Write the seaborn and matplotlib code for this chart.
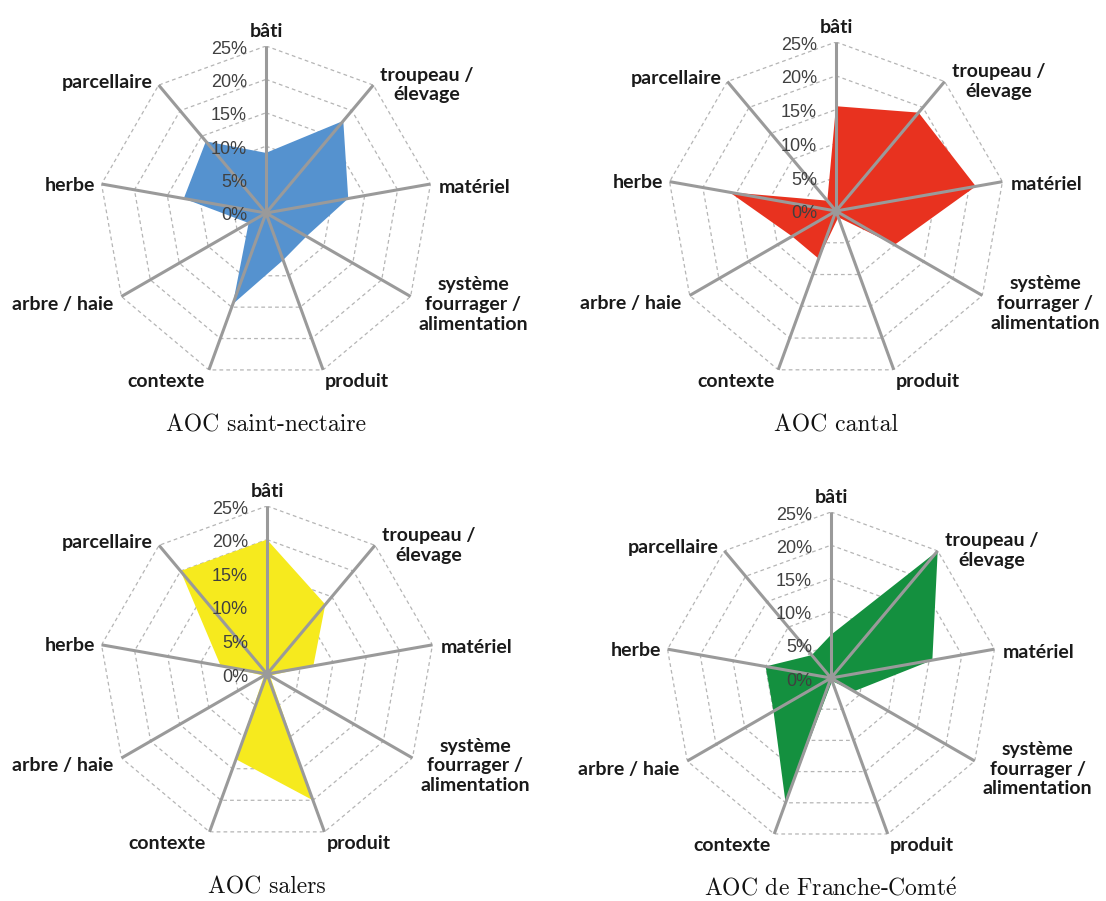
import numpy as np
import pandas as pd
import seaborn as sns
from matplotlib import pyplot as plt

# axis categories, clockwise from the top
categories = ['bâti', 'troupeau /\nélevage', 'matériel', 'système\nfourrager /\nalimentation',
              'produit', 'contexte', 'arbre / haie', 'herbe', 'parcellaire']
tick_values = [0, 5, 10, 15, 20, 25]
tick_labels = ['0%', '5%', '10%', '15%', '20%', '25%']

# share of each category (%)
saint_nectaire = [9, 18, 12.5, 7, 7.5, 14.5, 3, 12.5, 14]
cantal = [15.5, 19, 21, 10, 1, 7.5, 7.5, 16, 2]
salers = [20, 13.5, 7, 0.5, 20, 13.5, 0.5, 7, 20]
franche_comte = [6.5, 25, 15.5, 4, 0.5, 20, 10, 10, 4.5]

titles = ['AOC saint-nectaire', 'AOC cantal', 'AOC salers', r'AOC de Franche-Comt$\acute{\mathrm{e}}$']

sns.set_theme(style='white')
plt.rcParams['font.family'] = ['Liberation Sans', 'DejaVu Sans']
plt.rcParams['mathtext.fontset'] = 'cm'

W, H = 1106, 901
PT = 0.72  # points per pixel at dpi 100

# label placement per category: (dx px, dy px, ha, va)
label_pos = [
    (0, 6, 'center', 'bottom'),
    (7, 0, 'left', 'center'),
    (8, -3, 'left', 'center'),
    (8, -8, 'left', 'center'),
    (2, -3, 'left', 'top'),
    (-4, -3, 'right', 'top'),
    (-8, -8, 'right', 'center'),
    (-6, -1, 'right', 'center'),
    (-6, 3, 'right', 'center'),
]


def radar(ax, values, color, title):
    n = len(categories)
    angles = np.linspace(0, 2 * np.pi, n, endpoint=False)
    closed = np.append(angles, angles[0])
    ax.set_theta_offset(np.pi / 2)
    ax.set_theta_direction(-1)
    ax.set_ylim(0, 25)
    ax.set_xticks([])
    ax.set_yticks([])
    ax.grid(False)
    ax.spines['polar'].set_visible(False)
    ax.patch.set_alpha(0)

    # dashed nonagon rings
    for r in tick_values[1:]:
        ring = pd.DataFrame({'t': closed, 'r': [r] * len(closed)})
        sns.lineplot(data=ring, x='t', y='r', sort=False, estimator=None, ax=ax,
                     color='#b5b5b5', lw=0.9, linestyle=(0, (3, 2.5)), zorder=1)
    ax.set_xlabel('')
    ax.set_ylabel('')

    vals = np.append(values, values[0])
    ax.fill(closed, vals, color=color, lw=0, zorder=2, clip_on=False)

    # spokes
    for a in angles:
        ax.plot([a, a], [0, 25], color='#9a9a9a', lw=2.2, zorder=3, clip_on=False,
                solid_capstyle='butt')
    ax.plot([0], [0], 'o', color='#9a9a9a', ms=5, zorder=4)

    for v, lab in zip(tick_values, tick_labels):
        ax.annotate(lab, xy=(0, v), xytext=(-19 * PT, -3 * PT), textcoords='offset points',
                    ha='right', va='center', fontsize=13, color='#404040', zorder=5,
                    annotation_clip=False)

    for a, lab, (dx, dy, ha, va) in zip(angles, categories, label_pos):
        ax.annotate(lab, xy=(a, 25), xytext=(dx * PT, dy * PT), textcoords='offset points',
                    ha=ha, va=va, multialignment='center', fontsize=14,
                    fontweight='bold', family=['Lato', 'DejaVu Sans'], color='#1a1a1a',
                    linespacing=1.2, annotation_clip=False)

    ax.annotate(title, xy=(0.5, 0), xycoords='axes fraction', xytext=(0, -45 * PT),
                textcoords='offset points', ha='center', va='center', fontsize=17,
                family=['cmr10', 'DejaVu Serif'], color='#111111')


fig = plt.figure(figsize=(W / 100, H / 100), dpi=100)

# (centre x, centre y, radius) in pixels
panels = [
    (saint_nectaire, '#5592cf', (266, 213, 167)),
    (cantal, '#e8321f', (836, 211, 169)),
    (salers, '#f6ea1e', (267, 674, 168)),
    (franche_comte, '#14903f', (831, 678, 166)),
]

for (values, color, (cx, cy, R)), title in zip(panels, titles):
    ax = fig.add_axes([(cx - R) / W, (H - cy - R) / H, 2 * R / W, 2 * R / H], projection='polar')
    radar(ax, values, color, title)

fig.savefig('out.png', dpi=100, facecolor='white')
